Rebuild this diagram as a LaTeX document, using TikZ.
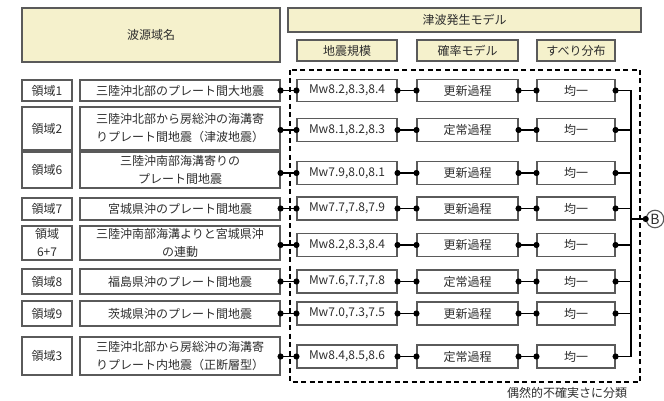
\documentclass[tikz,border=0pt]{standalone}
\usepackage{fontspec}
\setmainfont{Noto Sans CJK JP}
\usetikzlibrary{arrows.meta}
\definecolor{hdrfill}{RGB}{245,241,204}
\definecolor{boxline}{RGB}{90,90,90}
\definecolor{txt}{RGB}{45,45,45}

\tikzset{
  hdr/.style={draw=boxline, fill=hdrfill, line width=1.1pt, inner sep=0pt, text=txt, font=\fontsize{12}{14}\selectfont},
  cell/.style={draw=boxline, line width=1.1pt, inner sep=0pt, align=center, text=txt, font=\fontsize{12}{18}\selectfont},
  link/.style={line width=1.6pt, {Circle[length=6pt]}-{Circle[length=6pt]}, shorten <=-3pt, shorten >=-3pt},
  tobus/.style={line width=1.6pt, {Circle[length=6pt]}-, shorten <=-3pt},
}

\begin{document}
\begin{tikzpicture}[x=1pt,y=-1pt]
    \useasboundingbox (0,0) rectangle (664,401);
    % headers
    \node[hdr, minimum width=258pt, minimum height=54pt] (src) at (151,35) {波源域名};
    \node[hdr, minimum width=353pt, minimum height=24pt] (model) at (464.5,20) {津波発生モデル};
    \node[hdr, minimum width=100pt, minimum height=21pt] (hmag) at (347,50.5) {地震規模};
    \node[hdr, minimum width=101pt, minimum height=21pt] (hprob) at (467.5,50.5) {確率モデル};
    \node[hdr, minimum width=78pt, minimum height=21pt] (hslip) at (576,50.5) {すべり分布};
    % aleatory frame
    \draw[line width=1.2pt, dash pattern=on 5pt off 3.5pt] (290,70) rectangle (640,382);
    \coordinate (busx) at (631,0);
    % row 1
    \node[cell, minimum width=50pt, minimum height=21pt] (r1) at (47,90.5) {領域1};
    \node[cell, minimum width=200pt, minimum height=21pt] (d1) at (180,90.5) {三陸沖北部のプレート間大地震};
    \node[cell, minimum width=100pt, minimum height=22pt] (m1) at (347,90.5) {Mw8.2,8.3,8.4};
    \node[cell, minimum width=101pt, minimum height=22pt] (p1) at (467.5,90.5) {更新過程};
    \node[cell, minimum width=78pt, minimum height=22pt] (s1) at (576,90.5) {均一};
    % row 2
    \node[cell, minimum width=50pt, minimum height=43pt] (r2) at (47,128.5) {領域2};
    \node[cell, minimum width=200pt, minimum height=43pt] (d2) at (180,128.5) {三陸沖北部から房総沖の海溝寄\\りプレート間地震（津波地震）};
    \node[cell, minimum width=100pt, minimum height=23pt] (m2) at (347,130) {Mw8.1,8.2,8.3};
    \node[cell, minimum width=101pt, minimum height=23pt] (p2) at (467.5,130) {定常過程};
    \node[cell, minimum width=78pt, minimum height=23pt] (s2) at (576,130) {均一};
    % row 3
    \node[cell, minimum width=50pt, minimum height=36pt] (r3) at (47,170) {領域6};
    \node[cell, minimum width=200pt, minimum height=36pt] (d3) at (180,170) {三陸沖南部海溝寄りの\\プレート間地震};
    \node[cell, minimum width=100pt, minimum height=23pt] (m3) at (347,173) {Mw7.9,8.0,8.1};
    \node[cell, minimum width=101pt, minimum height=23pt] (p3) at (467.5,173) {更新過程};
    \node[cell, minimum width=78pt, minimum height=23pt] (s3) at (576,173) {均一};
    % row 4
    \node[cell, minimum width=50pt, minimum height=22pt] (r4) at (47,209) {領域7};
    \node[cell, minimum width=200pt, minimum height=22pt] (d4) at (180,209) {宮城県沖のプレート間地震};
    \node[cell, minimum width=100pt, minimum height=23pt] (m4) at (347,208.5) {Mw7.7,7.8,7.9};
    \node[cell, minimum width=101pt, minimum height=23pt] (p4) at (467.5,208.5) {更新過程};
    \node[cell, minimum width=78pt, minimum height=23pt] (s4) at (576,208.5) {均一};
    % row 5
    \node[cell, minimum width=50pt, minimum height=34pt] (r5) at (47,243) {領域\\6+7};
    \node[cell, minimum width=200pt, minimum height=34pt] (d5) at (180,243) {三陸沖南部海溝よりと宮城県沖\\の連動};
    \node[cell, minimum width=100pt, minimum height=23pt] (m5) at (347,245) {Mw8.2,8.3,8.4};
    \node[cell, minimum width=101pt, minimum height=23pt] (p5) at (467.5,245) {更新過程};
    \node[cell, minimum width=78pt, minimum height=23pt] (s5) at (576,245) {均一};
    % row 6
    \node[cell, minimum width=50pt, minimum height=25pt] (r6) at (47,281.5) {領域8};
    \node[cell, minimum width=200pt, minimum height=25pt] (d6) at (180,281.5) {福島県沖のプレート間地震};
    \node[cell, minimum width=100pt, minimum height=23pt] (m6) at (347,281.5) {Mw7.6,7.7,7.8};
    \node[cell, minimum width=101pt, minimum height=23pt] (p6) at (467.5,281.5) {定常過程};
    \node[cell, minimum width=78pt, minimum height=23pt] (s6) at (576,281.5) {均一};
    % row 7
    \node[cell, minimum width=50pt, minimum height=25pt] (r7) at (47,313.5) {領域9};
    \node[cell, minimum width=200pt, minimum height=25pt] (d7) at (180,313.5) {茨城県沖のプレート間地震};
    \node[cell, minimum width=100pt, minimum height=23pt] (m7) at (347,313.5) {Mw7.0,7.3,7.5};
    \node[cell, minimum width=101pt, minimum height=23pt] (p7) at (467.5,313.5) {更新過程};
    \node[cell, minimum width=78pt, minimum height=23pt] (s7) at (576,313.5) {均一};
    % row 8
    \node[cell, minimum width=50pt, minimum height=38pt] (r8) at (47,356) {領域3};
    \node[cell, minimum width=200pt, minimum height=38pt] (d8) at (180,356) {三陸沖北部から房総沖の海溝寄\\りプレート内地震（正断層型）};
    \node[cell, minimum width=100pt, minimum height=23pt] (m8) at (347,356.5) {Mw8.4,8.5,8.6};
    \node[cell, minimum width=101pt, minimum height=23pt] (p8) at (467.5,356.5) {定常過程};
    \node[cell, minimum width=78pt, minimum height=23pt] (s8) at (576,356.5) {均一};
    % links
    \foreach \i in {1,...,8} {
        \draw[link] (d\i.east |- m\i) -- (m\i.west);
        \draw[link] (m\i.east) -- (p\i.west);
        \draw[link] (p\i.east) -- (s\i.west);
    }
    % bus to B
    \draw[line width=1.6pt, {Circle[length=6pt]}-{Circle[length=6pt]}, shorten <=-3pt, shorten >=-3pt] (s1.east) -- (s1.east -| busx) -- (s8.east -| busx) -- (s8.east);
    \foreach \i in {2,...,7} {
        \draw[tobus] (s\i.east) -- (s\i.east -| busx);
    }
    \node[draw=boxline, circle, line width=1.1pt, minimum size=17.5pt, inner sep=0pt, text=txt, font=\fontsize{14}{15}\selectfont] (B) at (655,219) {B};
    \draw[line width=1.6pt, -{Circle[length=6pt]}, shorten >=-3pt] (B.west -| busx) -- (B.west);
    \node[text=txt, font=\fontsize{12}{14}\selectfont] (note) at (567,393) {偶然的不確実さに分類};
\end{tikzpicture}
\end{document}
